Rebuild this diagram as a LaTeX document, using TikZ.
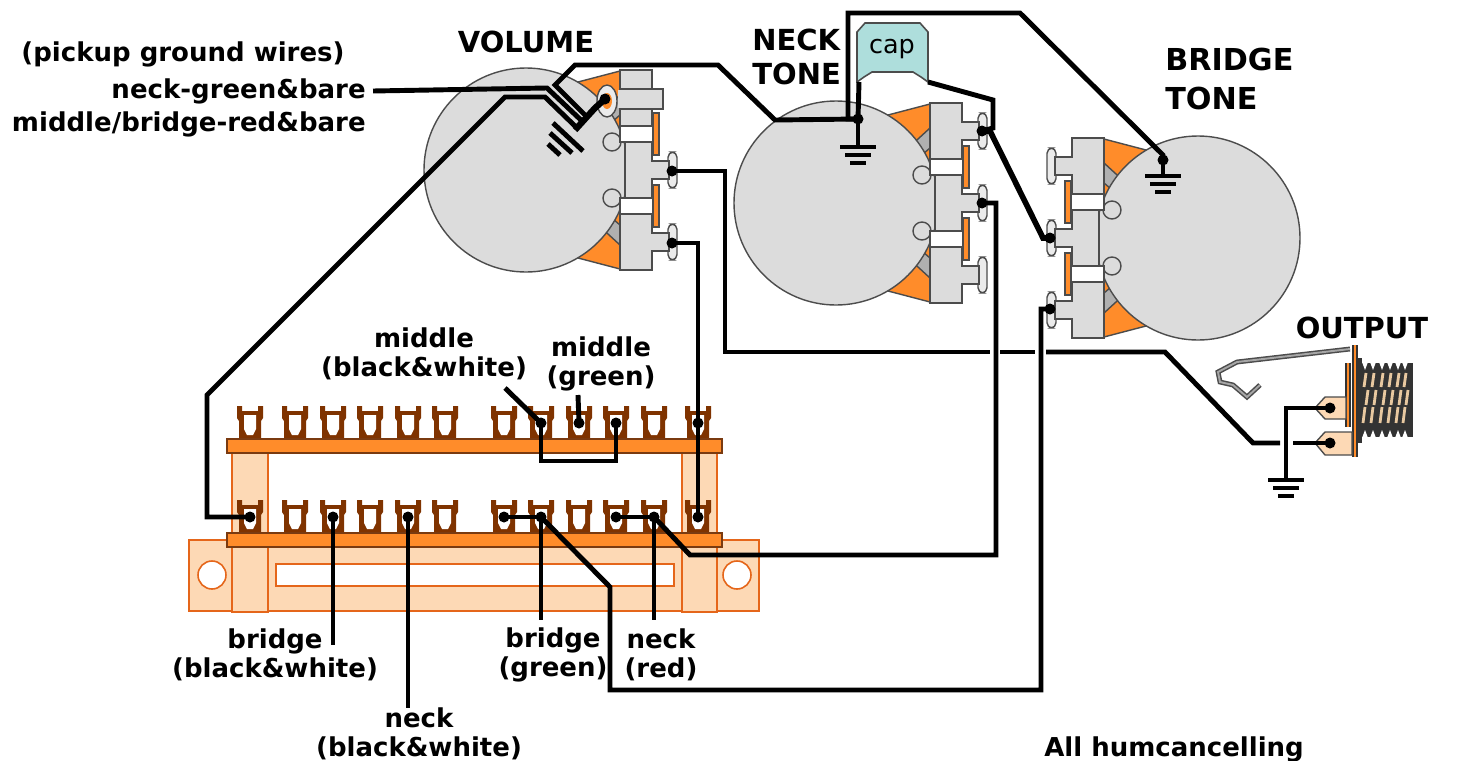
\documentclass[tikz,border=0pt]{standalone}
\usepackage{fontspec}
\setmainfont{DejaVu Sans}
\usetikzlibrary{arrows}

\definecolor{potorange}{HTML}{FF8C2A}
\definecolor{potgray}{HTML}{DCDCDC}
\definecolor{wedgegray}{HTML}{B0B0B0}
\definecolor{lugbrown}{HTML}{7F3300}
\definecolor{peach}{HTML}{FDD9B5}
\definecolor{peachedge}{HTML}{E5661A}
\definecolor{capteal}{HTML}{AEDEDC}
\definecolor{baredge}{HTML}{7A3A10}
\definecolor{threadtan}{HTML}{E8C8A0}

\tikzset{
  wire/.style={line width=2.8pt,color=black},
  potline/.style={draw=black!70,line width=0.8pt},
  lab/.style={font=\fontsize{14.8}{16.5}\selectfont\bfseries,align=center,inner sep=0pt},
  headlab/.style={font=\fontsize{16.5}{19}\selectfont\bfseries,align=left,inner sep=0pt},
  peachpart/.style={fill=peach,draw=peachedge,line width=0.9pt},
  barpart/.style={fill=potorange,draw=baredge,line width=0.9pt}
}

% one pot with its lugs, #2 = the lugs that stand out on the right
\newcommand{\potcan}[2]{%
\begin{scope}[#1]
\foreach \s in {1,-1} {
\begin{scope}[yscale=\s]
\filldraw[potline,fill=potorange] (52,-88) -- (94,-99) -- (94,-30) -- (60,-40) -- cycle;
\filldraw[potline,fill=wedgegray] (94,-75) -- (70,-53) -- (80,-43) -- (94,-55) -- cycle;
\end{scope}
}
\filldraw[potline,fill=potgray] (0,0) circle (102);
\filldraw[potline,fill=potgray] (86,-28) circle (9);
\filldraw[potline,fill=potgray] (86,28) circle (9);
\foreach \y in {#2} {
\filldraw[potline,fill=black!8,rounded corners=3pt] (142,\y-18) rectangle (151,\y+18);
\filldraw[potline,fill=potgray] (124,\y-9) rectangle (143,\y+9);
}
\filldraw[potline,fill=potgray] (94,-100) -- (126,-100) -- (126,100) -- (94,100) -- (94,28) -- (99,28) -- (99,-28) -- (94,-28) -- cycle;
\foreach \y in {#2}
\fill[potgray] (124,\y-8) rectangle (128,\y+8);
\foreach \y in {-36,36} {
\filldraw[potline,fill=potorange] (127,\y-21) rectangle (133,\y+21);
\filldraw[potline,fill=white] (94,\y-8) rectangle (127,\y+8);
}
\end{scope}
}

% one solder terminal of the pickup strip
\newcommand{\solderlug}[2]{%
\begin{scope}[shift={(#1,#2)}]
\fill[lugbrown] (-13,0) -- (-8,0) -- (-8,5) -- (8,5) -- (8,0) -- (13,0) -- (13,12) -- (11,15) -- (11,33) -- (-11,33) -- (-11,15) -- (-13,12) -- cycle;
\fill[white] (-6,9) -- (6,9) -- (6,23) -- (3,29) -- (-3,29) -- (-6,23) -- cycle;
\end{scope}
}

% ground sign, #1 = middle of the long bar
\newcommand{\gndsign}[1]{%
\begin{scope}[shift={#1}]
\draw[line width=2.2pt] (-18,0) -- (18,0);
\draw[line width=2.2pt] (-13,8) -- (13,8);
\draw[line width=2.2pt] (-8,16) -- (8,16);
\end{scope}
}

\begin{document}
\begin{tikzpicture}[x=0.02cm,y=-0.02cm]
\useasboundingbox (0,0) rectangle (1468,761);

% the three pots
\potcan{shift={(526,170)}}{0,72}
\potcan{shift={(836,203)}}{-72,0,72}
\potcan{shift={(1198,238)},xscale=-1}{-72,0,72}

% volume pot, the folded lug
\filldraw[potline,fill=potgray] (620,89) rectangle (663,109);
\fill[potgray] (618,90) rectangle (624,108);
\filldraw[potline,fill=black!8] (607,101) ellipse (10 and 16);
\fill[potorange] (607,101) ellipse (5 and 8);

% pickup strip
\filldraw[peachpart] (189,540) rectangle (759,611);
\filldraw[peachpart,fill=white] (276,564) rectangle (674,586);
\filldraw[peachpart,fill=white] (212,575) circle (14);
\filldraw[peachpart,fill=white] (737,575) circle (14);
\filldraw[peachpart] (232,453) rectangle (268,612);
\filldraw[peachpart] (682,453) rectangle (717,612);
\foreach \x [count=\i] in {250,295,333,370,408,445,504,541,579,616,654,698} {
\solderlug{\x}{406}
\solderlug{\x}{500}
\coordinate (up\i) at (\x,423);
\coordinate (lo\i) at (\x,517);
}
\filldraw[barpart] (227,439) rectangle (722,453);
\filldraw[barpart] (227,533) rectangle (722,547);

% output jack
\draw[black!70,line width=2.8pt] (1350,349) -- (1237,362) -- (1218,372) -- (1220,382) -- (1233,385) -- (1247,397) -- (1260,385);
\draw[black!35,line width=1.1pt] (1350,349) -- (1237,362) -- (1218,372) -- (1220,382) -- (1233,385) -- (1247,397) -- (1260,385);
\fill[black!80] (1358,358) rectangle (1362,443);
\fill[black!80] (1360,363) rectangle (1413,437);
\foreach \x in {1365,1373,1382,1390,1398,1405} {
\fill[white] (\x-3,362) -- (\x+3,362) -- (\x,370) -- cycle;
\fill[white] (\x-3,438) -- (\x+3,438) -- (\x,430) -- cycle;
\draw[threadtan,line width=1.6pt] (\x+1,373) -- (\x-1,387);
\draw[threadtan,line width=1.6pt] (\x+3,390) -- (\x+1,405);
\draw[threadtan,line width=1.6pt] (\x,407) -- (\x-2,423);
}
\fill[black!80] (1352,345) rectangle (1358,457);
\fill[potorange] (1354,345) rectangle (1356,457);
\fill[black!80] (1345,363) rectangle (1351,427);
\fill[potorange] (1347,363) rectangle (1349,427);
\filldraw[draw=black!70,fill=peach,line width=0.8pt] (1315,408) -- (1325,397) -- (1346,397) -- (1346,419) -- (1325,419) -- cycle;
\filldraw[draw=black!70,fill=peach,line width=0.8pt] (1315,443) -- (1325,432) -- (1352,432) -- (1352,455) -- (1325,455) -- cycle;

% cap
\filldraw[draw=black!70,fill=capteal,line width=0.9pt] (865,23) -- (920,23) -- (928,32) -- (928,82) -- (921,77) -- (913,72) -- (872,72) -- (864,77) -- (857,82) -- (857,32) -- cycle;
\node (capbody) at (892,49) {\fontsize{14.5}{16}\selectfont cap};

% end points of the wires
\coordinate (volmid) at (672,171);
\coordinate (volbot) at (672,243);
\coordinate (voleye) at (605,99);
\coordinate (necktop) at (982,131);
\coordinate (neckmid) at (982,203);
\coordinate (bridgemid) at (1050,238);
\coordinate (bridgebot) at (1050,309);
\coordinate (neckgnd) at (858,119);
\coordinate (bridgegnd) at (1163,160);
\coordinate (capleft) at (859,82);
\coordinate (capright) at (928,82);
\coordinate (jackgnd) at (1330,408);
\coordinate (jacksig) at (1330,443);

% labels
\node[headlab] (volumelab) at (526,42) {VOLUME};
\node[headlab,anchor=west] (necktonelab) at (752,57) {NECK\\[0pt]TONE};
\node[headlab,anchor=west,font=\fontsize{17.2}{22}\selectfont\bfseries] (bridgetonelab) at (1165,79) {BRIDGE\\[0pt]TONE};
\node[headlab] (outputlab) at (1362,328) {OUTPUT};
\node[lab] (groundlab) at (183,54) {(pickup ground wires)};
\node[lab,anchor=east] (greenbare) at (366,91) {neck-green\&bare};
\node[lab,anchor=east] (redbare) at (366,124) {middle/bridge-red\&bare};
\node[lab] (middlebw) at (424,354) {middle\\(black\&white)};
\node[lab] (middlegreen) at (601,364) {middle\\(green)};
\node[lab] (bridgebw) at (275,655) {bridge\\(black\&white)};
\node[lab] (neckbw) at (419,734) {neck\\(black\&white)};
\node[lab] (bridgegreen) at (553,655) {bridge\\(green)};
\node[lab] (neckred) at (661,655) {neck\\(red)};
\node[lab] (humlab) at (1174,749) {All humcancelling};

% ground signs
\gndsign{(858,147)}
\gndsign{(1163,176)}
\gndsign{(1286,480)}

% wires
\draw[wire] (lo1) -| (207,395) -- (505,97) -- (545,97) -- (577,128);
\draw[wire] ([xshift=4pt]greenbare.east) -- (547,88) -- (583,122);
\draw[wire] (neckgnd) -- (775,120) -- (718,65) -- (575,65) -- (555,85) -- (587,117);
\draw[wire,line width=3.6pt] (575,130) -- (595,108) -- (voleye);
\draw[wire] (553,123) -- (583,151);
\draw[wire] (550,133) -- (572,153);
\draw[wire] (548,144) -- (560,155);
\draw[wire] (neckgnd) -- (858,147);
\draw[wire] (neckgnd) -- (848,119) -- (848,13) -- (1020,13) -- (1163,155) -- (bridgegnd);
\draw[wire] (bridgegnd) -- (1163,176);
\draw[wire] (capleft) -- (neckgnd);
\draw[wire] (capright) -- (993,100) -- (993,128) -- (necktop);
\draw[wire,line width=3.2pt] (necktop) -- (990,131) -- (1043,238) -- (bridgemid);
\draw[wire] (neckmid) -| (996,555) -- (690,555) -- (lo11);
\draw[wire] (bridgebot) -| (1041,690) -| (610,587) -- (lo8);
\draw[wire] (volbot) -| (up12) -- (lo12);
\draw[wire] (volmid) -| (725,352) -- (990,352);
\draw[wire] (1000,352) -- (1035,352);
\draw[wire] (1046,352) -- (1165,352) -- (1253,443) -- (1280,443);
\draw[wire] (1293,443) -- (jacksig);
\draw[wire] (jackgnd) -| (1286,480);
\draw[wire] (up8) -- (541,461) -| (up10);
\draw[wire] (505,388) -- (up8);
\draw[wire] (578,395) -- (up9);
\draw[wire] (lo7) -- (lo8) -- (541,620);
\draw[wire] (lo10) -- (lo11) -- (654,620);
\draw[wire] (lo3) -- (333,645);
\draw[wire] (lo5) -- (408,708);

% solder dots
\foreach \p in {volmid,volbot,voleye,necktop,neckmid,bridgemid,bridgebot,neckgnd,bridgegnd,jackgnd,jacksig,up8,up9,up10,up12,lo1,lo3,lo5,lo7,lo8,lo10,lo11,lo12}
\fill (\p) circle (5.5);
\end{tikzpicture}
\end{document}
